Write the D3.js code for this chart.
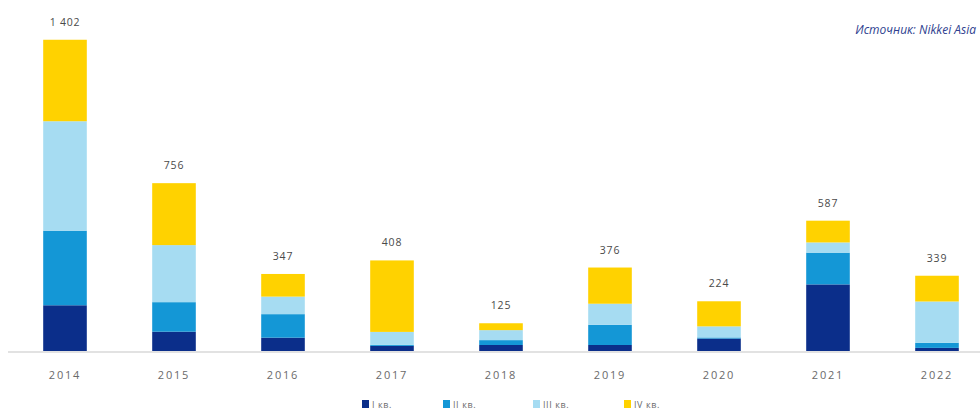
<!DOCTYPE html>
<html><head><meta charset="utf-8">
<script src="https://cdn.jsdelivr.net/npm/d3@7"></script>
<style>
html,body{margin:0;padding:0;background:#fff;}
svg{display:block;font-family:"Open Sans","Liberation Sans",sans-serif;}
</style></head>
<body>
<svg id="c" width="980" height="412"></svg>
<script>
const years = ["2014","2015","2016","2017","2018","2019","2020","2021","2022"];
const q1 = [206, 87, 60, 23, 27, 27, 56, 300, 14];
const q2 = [336, 133, 106, 5, 22, 91, 5, 143, 23];
const q3 = [493, 257, 79, 58, 45, 95, 50, 46, 186];
const q4 = [367, 279, 102, 322, 31, 163, 113, 98, 116];
const totalLabels = ["1 402","756","347","408","125","376","224","587","339"];
const seriesNames = ["I кв.","II кв.","III кв.","IV кв."];
const colors = ["#0b2e8a","#1497d6","#a6dcf2","#ffd200"];

const svg = d3.select("#c");
const x = d3.scaleBand().domain(years).range([10.5, 991.5]).paddingInner(0.6).paddingOuter(0.3);
const y = d3.scaleLinear().domain([0, 1500]).range([351, 18]);

const rows = years.map((yr,i)=>({year:yr, q1:q1[i], q2:q2[i], q3:q3[i], q4:q4[i]}));
const stack = d3.stack().keys(["q1","q2","q3","q4"])(rows);

// baseline
svg.append("line").attr("x1",8).attr("x2",980).attr("y1",y(0)+1).attr("y2",y(0)+1)
  .attr("stroke","#d9d9d9").attr("stroke-width",1.5);

svg.append("g").selectAll("g").data(stack).join("g").attr("fill",(d,i)=>colors[i])
  .selectAll("rect").data(d=>d).join("rect")
  .attr("x",d=>x(d.data.year)).attr("width",x.bandwidth())
  .attr("y",d=>y(d[1])).attr("height",d=>y(d[0])-y(d[1]));

// totals
svg.append("g").selectAll("text").data(rows).join("text")
  .attr("x",d=>x(d.year)+x.bandwidth()/2)
  .attr("y",d=>y(d.q1+d.q2+d.q3+d.q4)-14)
  .attr("text-anchor","middle").attr("font-size",10.5).attr("letter-spacing",0.8)
  .attr("fill","#4a4a4a")
  .text((d,i)=>totalLabels[i]);

// x axis labels
const xAxis = d3.axisBottom(x).tickSize(0).tickPadding(0);
const gx = svg.append("g").attr("transform",`translate(0,${y(0)+20})`).call(xAxis);
gx.select(".domain").remove();
gx.selectAll("text").attr("font-size",11).attr("letter-spacing",1.8).attr("fill","#6a6a6a")
  .attr("font-family","Open Sans, sans-serif");

// legend
const legX = [362, 443, 533, 624];
const lg = svg.append("g");
seriesNames.forEach((n,i)=>{
  lg.append("rect").attr("x",legX[i]).attr("y",400).attr("width",7).attr("height",8).attr("fill",colors[i]);
  lg.append("text").attr("x",legX[i]+10).attr("y",408).attr("font-size",9).attr("letter-spacing",0.6)
    .attr("fill","#6a6a6a").text(n);
});

// source
svg.append("text").attr("x",976).attr("y",34).attr("text-anchor","end").attr("font-size",12).attr("font-style","italic")
  .attr("fill","#2f3f8f").text("Источник: Nikkei Asia");
</script>
</body></html>
